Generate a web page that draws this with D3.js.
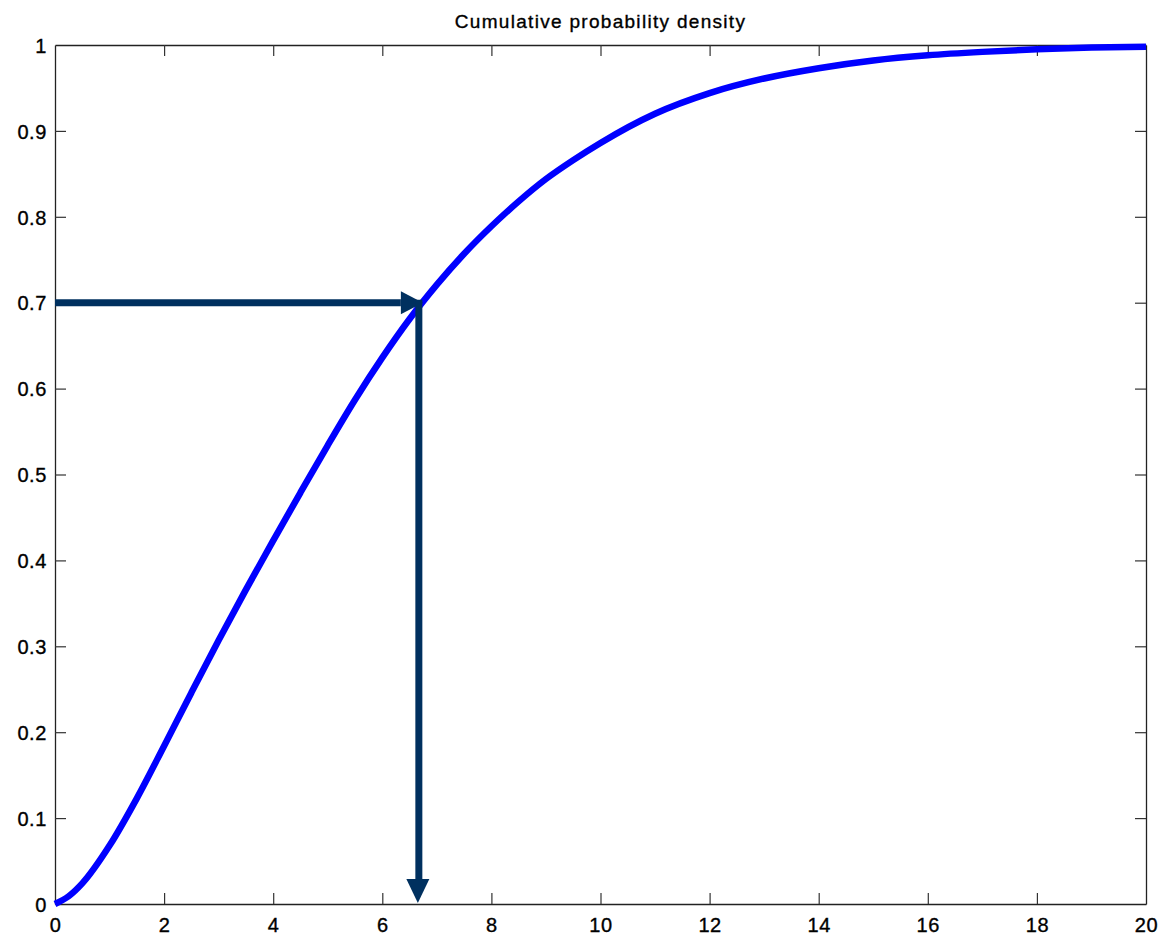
<!DOCTYPE html>
<html>
<head>
<meta charset="utf-8">
<script src="https://cdn.jsdelivr.net/npm/d3@7"></script>
<style>
  body { margin: 0; background: #fff; }
  text { font-family: "Liberation Sans", Arial, Helvetica, sans-serif; fill: #000; stroke: #000; stroke-width: 0.35px; }
</style>
</head>
<body>
<script>
// values
const xValues = [0, 0.25, 0.5, 1, 1.5, 2, 2.5, 3, 3.5, 4, 4.5, 5, 5.5, 6, 6.5, 7, 7.5, 8, 8.5, 9, 9.5, 10,
  11, 12, 13, 14, 15, 16, 17, 18, 19, 20];
const cdfValues = [0, 0.009, 0.024, 0.068, 0.123, 0.184, 0.246, 0.307, 0.366, 0.423, 0.479, 0.534, 0.587, 0.636,
  0.681, 0.721, 0.757, 0.789, 0.818, 0.844, 0.866, 0.886,
  0.920, 0.944, 0.961, 0.973, 0.982, 0.988, 0.992, 0.995, 0.997, 0.998];
const xTicks = [0, 2, 4, 6, 8, 10, 12, 14, 16, 18, 20];
const yTicks = [0, 0.1, 0.2, 0.3, 0.4, 0.5, 0.6, 0.7, 0.8, 0.9, 1];
const probLevel = 0.7;   // horizontal arrow
const quantile = 6.67;   // vertical arrow
const title = "Cumulative probability density";

const svgWidth = 1161;
const svgHeight = 935;
const margin = { top: 45, right: 15, bottom: 31, left: 55 };

const svg = d3.select('body').append('svg')
  .attr('width', svgWidth)
  .attr('height', svgHeight);

const xScale = d3.scaleLinear().domain([0, 20]).range([margin.left, svgWidth - margin.right]);
const yScale = d3.scaleLinear().domain([0, 1]).range([svgHeight - margin.bottom, margin.top]);

const points = xValues.map((x, i) => ({ x, y: cdfValues[i] }));

// title
svg.append('text')
  .attr('x', (xScale(0) + xScale(20)) / 2)
  .attr('y', 28)
  .attr('text-anchor', 'middle')
  .style('font-size', '19px')
  .style('letter-spacing', '1.3px')
  .text(title);

const tickLen = 11;

// bottom + top axes
const xAxis = svg.append('g')
  .attr('transform', `translate(0, ${yScale(0)})`)
  .call(d3.axisBottom(xScale).tickValues(xTicks).tickSize(-tickLen).tickSizeOuter(0));
svg.append('g')
  .attr('transform', `translate(0, ${yScale(1)})`)
  .call(d3.axisTop(xScale).tickValues(xTicks).tickSize(-tickLen).tickFormat('').tickSizeOuter(0));

// left + right axes
const yAxis = svg.append('g')
  .attr('transform', `translate(${xScale(0)}, 0)`)
  .call(d3.axisLeft(yScale).tickValues(yTicks).tickSize(-tickLen)
    .tickFormat(d => d3.format('~g')(d)).tickSizeOuter(0));
svg.append('g')
  .attr('transform', `translate(${xScale(20)}, 0)`)
  .call(d3.axisRight(yScale).tickValues(yTicks).tickSize(-tickLen).tickFormat('').tickSizeOuter(0));

svg.selectAll('.domain').attr('stroke', '#222').attr('stroke-width', 1.3);
svg.selectAll('.tick line').attr('stroke', '#333').attr('stroke-width', 1.2);
svg.selectAll('.tick text')
  .style('font-size', '20px')
  .style('letter-spacing', '0.6px')
  .attr('fill', '#000');
xAxis.selectAll('.tick text').attr('y', 28).attr('dy', 0);
yAxis.selectAll('.tick text').attr('x', -8).attr('dy', '0.36em');
// drop the overlapping tick marks at the corners
svg.selectAll('.tick').filter(d => d === 0 || d === 20 || d === 1).select('line').remove();

// curve
svg.append('path')
  .datum(points)
  .attr('fill', 'none')
  .attr('stroke', '#0000ff')
  .attr('stroke-width', 6.5)
  .attr('d', d3.line().x(d => xScale(d.x)).y(d => yScale(d.y)).curve(d3.curveMonotoneX));

// arrows
const arrowColor = '#00305f';
const hx = xScale(quantile), hy = yScale(probLevel);
const head = 22;

svg.append('line')
  .attr('x1', xScale(0)).attr('y1', hy)
  .attr('x2', hx - head + 4).attr('y2', hy)
  .attr('stroke', arrowColor).attr('stroke-width', 7);
svg.append('path')
  .attr('fill', arrowColor)
  .attr('d', `M${hx + 4},${hy} L${hx + 4 - head},${hy - 11.5} L${hx + 4 - head},${hy + 11.5} Z`);

svg.append('line')
  .attr('x1', hx).attr('y1', hy - 3)
  .attr('x2', hx).attr('y2', yScale(0) - head)
  .attr('stroke', arrowColor).attr('stroke-width', 7);
svg.append('path')
  .attr('fill', arrowColor)
  .attr('d', `M${hx - 1},${yScale(0) - 1} L${hx - 12.5},${yScale(0) - 1 - head - 2} L${hx + 10.5},${yScale(0) - 1 - head - 2} Z`);
</script>
</body>
</html>
